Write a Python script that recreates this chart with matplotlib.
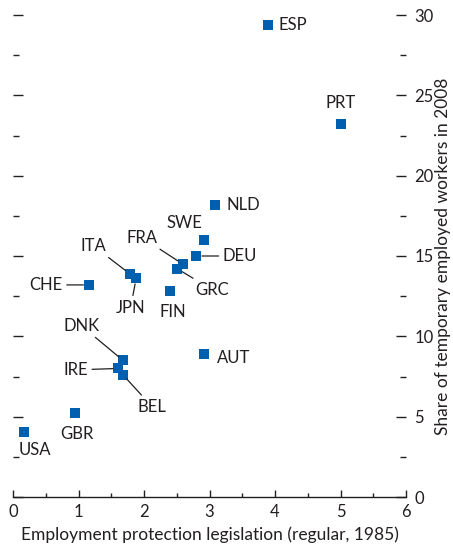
import matplotlib
matplotlib.use("Agg")
import matplotlib.pyplot as plt
from matplotlib.ticker import MultipleLocator

plt.rcParams['font.family'] = ['Lato', 'DejaVu Sans']

countries = ["ESP", "PRT", "NLD", "SWE", "DEU", "FRA", "GRC", "ITA", "JPN",
             "CHE", "FIN", "AUT", "DNK", "IRE", "BEL", "GBR", "USA"]
epl_1985 = [3.89, 5.00, 3.09, 2.91, 2.80, 2.59, 2.51, 1.78, 1.88,
            1.16, 2.39, 2.92, 1.68, 1.61, 1.68, 0.95, 0.17]
temp_share_2008 = [29.4, 23.2, 18.2, 16.0, 15.0, 14.5, 14.2, 13.9, 13.6,
                   13.2, 12.8, 8.9, 8.5, 8.0, 7.6, 5.2, 4.05]

# label placement: offset in points, alignment, leader line or not
label_pos = {
    "ESP": ((8, 0), "left", False),
    "PRT": ((0, 15), "center", False),
    "NLD": ((8, 0), "left", False),
    "SWE": ((-14, 12), "center", False),
    "DEU": ((19, 0), "left", True),
    "FRA": ((-29, 19), "center", True),
    "GRC": ((25, -15), "center", True),
    "ITA": ((-26, 20), "center", True),
    "JPN": ((-4, -21), "center", True),
    "CHE": ((-19, 0), "right", True),
    "FIN": ((2, -15), "center", False),
    "AUT": ((21, -3), "center", False),
    "DNK": ((-30, 25), "center", True),
    "IRE": ((-22, -1), "right", True),
    "BEL": ((21, -23), "center", True),
    "GBR": ((1, -15), "center", False),
    "USA": ((8, -13), "center", False),
}

blue = "#0060b0"
dark = "#231f20"

fig = plt.figure(figsize=(4.53, 5.55), dpi=100)
ax = fig.add_axes([13 / 453, 1 - 497 / 555, (406 - 13) / 453, (497 - 15) / 555])

ax.scatter(epl_1985, temp_share_2008, marker="s", s=52, color=blue, zorder=3, linewidths=0)

for name, x, y in zip(countries, epl_1985, temp_share_2008):
    (dx, dy), ha, line = label_pos[name]
    arrow = dict(arrowstyle="-", color=dark, lw=0.9, shrinkA=1, shrinkB=4) if line else None
    ax.annotate(name, (x, y), xytext=(dx, dy), textcoords="offset points",
                ha=ha, va="center", fontsize=12, color=dark, arrowprops=arrow)

ax.set_xlim(0, 6)
ax.set_ylim(0, 30)
ax.xaxis.set_major_locator(MultipleLocator(1))
ax.xaxis.set_minor_locator(MultipleLocator(0.5))
ax.yaxis.set_major_locator(MultipleLocator(5))
ax.yaxis.set_minor_locator(MultipleLocator(2.5))

for side in ["top", "left", "right"]:
    ax.spines[side].set_visible(False)
ax.spines["bottom"].set_color(dark)
ax.spines["bottom"].set_linewidth(1.0)

ax.tick_params(axis="x", which="both", direction="in", top=False, colors=dark,
               labelsize=12, pad=5, width=1.0)
ax.tick_params(axis="x", which="major", length=5)
ax.tick_params(axis="x", which="minor", length=3)
ax.tick_params(axis="y", which="both", direction="in", left=True, right=True,
               labelleft=False, labelright=True, colors=dark, labelsize=12,
               pad=6, width=1.0)
ax.tick_params(axis="y", which="major", length=7)
ax.tick_params(axis="y", which="minor", length=4)

ax.set_xlabel("Employment protection legislation (regular, 1985)", fontsize=12.5,
              color=dark, labelpad=5)
ax.yaxis.set_label_position("right")
ax.set_ylabel("Share of temporary employed workers in 2008", fontsize=12.5,
              color=dark, labelpad=1)

fig.savefig("out.png", dpi=100)
